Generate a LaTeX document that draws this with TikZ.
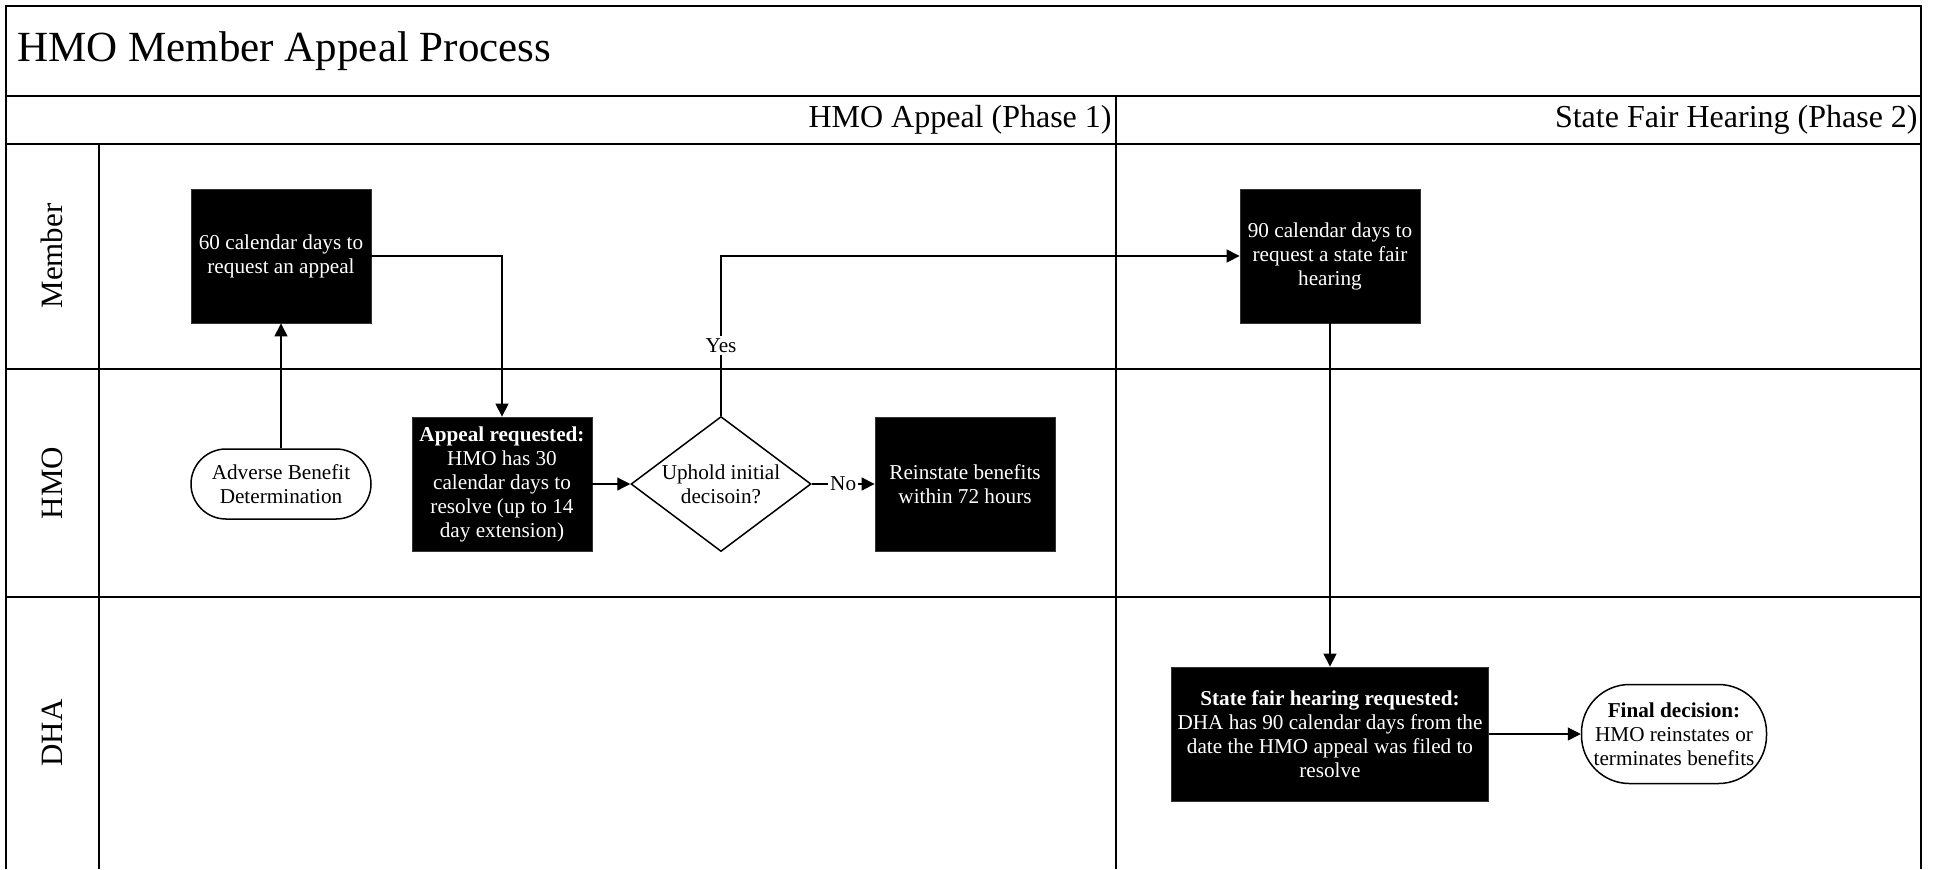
\documentclass[tikz,border=0pt]{standalone}
\usepackage{fontspec}
\setmainfont{Liberation Serif}
\usepackage{tikz}
\usetikzlibrary{shapes,arrows.meta,positioning,calc}

\tikzset{
  frame/.style={line width=1pt},
  blackbox/.style={rectangle, draw=black!80, fill=black, text=white, align=center,
    minimum width=90pt, minimum height=67pt, inner sep=2pt,
    font=\fontsize{10.6}{12}\selectfont},
  terminal/.style={rectangle, rounded corners=17.5pt, draw, line width=0.75pt, align=center,
    minimum width=90pt, minimum height=35pt, inner sep=1pt,
    font=\fontsize{10.6}{12}\selectfont},
  decision/.style={diamond, draw, line width=0.75pt, align=center, aspect=1.33,
    minimum width=90pt, minimum height=67.5pt, inner sep=0pt,
    font=\fontsize{10.6}{12}\selectfont},
  lanelabel/.style={rotate=90, font=\fontsize{15.5}{18}\selectfont},
  flow/.style={-{Triangle[length=6.5pt,width=6.5pt]}, line width=0.6pt},
  flowlabel/.style={fill=white, inner sep=1pt, font=\fontsize{10.6}{12}\selectfont}
}

\begin{document}
\begin{tikzpicture}[x=0.5pt, y=-0.5pt]
  \useasboundingbox (0,0) rectangle (1933,869);

  % pool and lanes
  \draw[frame] (6,869) -- (6,6) -- (1921,6) -- (1921,869);
  \draw[frame] (6,96) -- (1921,96);
  \draw[frame] (6,144) -- (1921,144);
  \draw[frame] (6,369) -- (1921,369);
  \draw[frame] (6,597) -- (1921,597);
  \draw[frame] (99,144) -- (99,869);
  \draw[frame] (1116,96) -- (1116,869);

  \node[anchor=west, inner sep=0pt, font=\fontsize{21.5}{25}\selectfont] (title) at (17,51) {HMO Member Appeal Process};
  \node[anchor=east, inner sep=0pt, font=\fontsize{16}{19}\selectfont] (phase1) at (1112,120) {HMO Appeal (Phase 1)};
  \node[anchor=east, inner sep=0pt, font=\fontsize{16}{19}\selectfont] (phase2) at (1918,120) {State Fair Hearing (Phase 2)};

  \node[lanelabel] (lmember) at (52,256) {Member};
  \node[lanelabel] (lhmo) at (52,483) {HMO};
  \node[lanelabel] (ldha) at (52,733) {DHA};

  % phase 1
  \node[blackbox] (req60) at (281,256) {60 calendar days to\\request an appeal};
  \node[terminal] (adverse) at (281,484) {Adverse Benefit\\Determination};
  \node[blackbox] (apreq) at (502,484) {\textbf{Appeal requested:}\\HMO has 30\\calendar days to\\resolve (up to 14\\day extension)};
  \node[decision] (uphold) at (721,484) {Uphold initial\\decisoin?};
  \node[blackbox] (reinstate) at (965,484) {Reinstate benefits\\within 72 hours};

  % phase 2
  \node[blackbox] (req90) at (1330,256) {90 calendar days to\\request a state fair\\hearing};
  \node[blackbox, minimum width=158.5pt] (sfhreq) at (1330,734) {\textbf{State fair hearing requested:}\\DHA has 90 calendar days from the\\date the HMO appeal was filed to\\resolve};
  \node[terminal, rounded corners=24pt, minimum width=92.5pt, minimum height=49.5pt, inner sep=0pt] (final) at (1674,734) {\textbf{Final decision:}\\HMO reinstates or\\terminates benefits};

  \draw[flow] (adverse) -- (req60);
  \draw[flow] (req60.east) -| (apreq.north);
  \draw[flow] (apreq) -- (uphold);
  \draw[flow] (uphold.north) |- node[flowlabel, pos=0.22] {Yes} (req90.west);
  \draw[flow] (uphold.east) -- node[flowlabel] {No} (reinstate.west);
  \draw[flow] (req90) -- (sfhreq);
  \draw[flow] (sfhreq) -- (final);
\end{tikzpicture}
\end{document}
